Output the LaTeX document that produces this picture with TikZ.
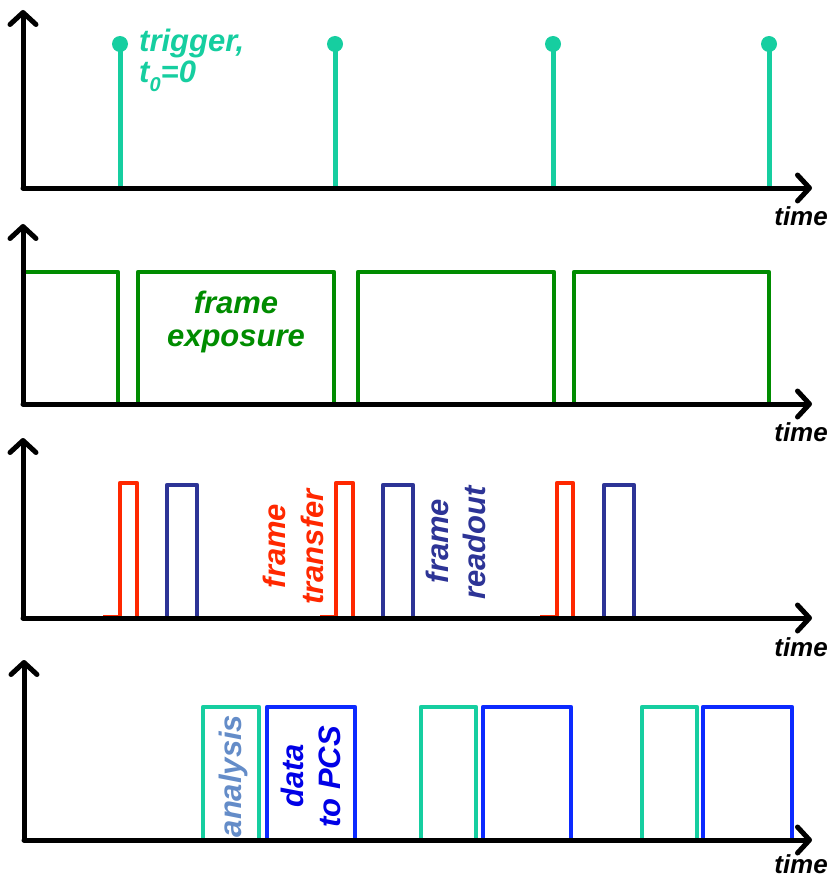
\documentclass[tikz,border=0pt]{standalone}
\usepackage{fontspec}
\setmainfont{Liberation Sans}
\usetikzlibrary{arrows.meta}

\definecolor{trig}{RGB}{22,206,160}
\definecolor{expo}{RGB}{0,140,0}
\definecolor{xfer}{RGB}{255,40,0}
\definecolor{rdout}{RGB}{45,52,150}
\definecolor{pcs}{RGB}{12,42,255}
\definecolor{pcstext}{RGB}{0,0,230}
\definecolor{anatext}{RGB}{100,140,200}

\tikzset{
  axis/.style={line width=5pt, line cap=round, line join=round,
    -{Straight Barb[length=12pt,width=26pt,round]}},
  pulse/.style={line width=4.5pt, line join=round},
  lbl/.style={font=\fontsize{31}{33}\selectfont\bfseries\itshape, inner sep=0pt},
  timelbl/.style={font=\fontsize{26}{28}\selectfont\bfseries\itshape, inner sep=0pt, anchor=base east},
}

\begin{document}
\begin{tikzpicture}[x=1pt,y=-1pt]
\useasboundingbox (0,0) rectangle (830,880);

% ---- panel 1: triggers ----
\foreach \tx [count=\i] in {120,335,553,769}{
  \coordinate (tb\i) at (\tx,188);
  \coordinate (tt\i) at (\tx,44);
  \draw[trig, line width=5pt] (tb\i) -- (tt\i);
  \fill[trig] (tt\i) circle (8);
}
\node[lbl, trig, anchor=base west] (trg1) at (139,52) {trigger,};
\node[lbl, trig, anchor=base west] (trg2) at (139,83)
  {t\raisebox{-0.28em}{\fontsize{20}{20}\selectfont 0}=0};
\coordinate (o1) at (23,188);
\coordinate (y1) at (23,10);
\coordinate (x1) at (812,188);
\draw[axis] (o1) -- (y1);
\draw[axis] (o1) -- (x1);
\node[timelbl] (time1) at (828,225) {time};

% ---- panel 2: frame exposure ----
\draw[expo, pulse] (23,272) -- (118,272) -- (118,404);
\draw[expo, pulse] (138,404) -- (138,272) -- (334,272) -- (334,404);
\draw[expo, pulse] (358,404) -- (358,272) -- (554,272) -- (554,404);
\draw[expo, pulse] (574,404) -- (574,272) -- (769,272) -- (769,404);
\node[lbl, expo, anchor=base] (fe1) at (236,313) {frame};
\node[lbl, expo, anchor=base] (fe2) at (236,346) {exposure};
\coordinate (o2) at (23,404);
\coordinate (y2) at (23,224);
\coordinate (x2) at (812,404);
\draw[axis] (o2) -- (y2);
\draw[axis] (o2) -- (x2);
\node[timelbl] (time2) at (828,441) {time};

% ---- panel 3: frame transfer and readout ----
\foreach \a/\b/\c in {103/120/137, 320/336/353, 540/557/573}{
  \draw[xfer, pulse] (\a,617) -- (\b,617) -- (\b,483) -- (\c,483) -- (\c,617);
}
\foreach \a/\b in {167/197, 383/413, 604/634}{
  \draw[rdout, pulse] (\a,619) rectangle (\b,485);
}
\node[lbl, xfer, rotate=90, anchor=base] (ft1) at (285,546) {frame};
\node[lbl, xfer, rotate=90, anchor=base] (ft2) at (323,547) {transfer};
\node[lbl, rdout, rotate=90, anchor=base] (fr1) at (448,541) {frame};
\node[lbl, rdout, rotate=90, anchor=base] (fr2) at (485,543) {readout};
\coordinate (o3) at (23,618);
\coordinate (y3) at (23,438);
\coordinate (x3) at (812,618);
\draw[axis] (o3) -- (y3);
\draw[axis] (o3) -- (x3);
\node[timelbl] (time3) at (828,656) {time};

% ---- panel 4: analysis and data transfer to PCS ----
\foreach \a/\b in {203/259, 421/476, 642/697}{
  \draw[trig, pulse] (\a,840) rectangle (\b,707);
}
\foreach \a/\b in {267/355, 483/571, 703/792}{
  \draw[pcs, pulse] (\a,840) rectangle (\b,707);
}
\node[lbl, anatext, rotate=90, anchor=base] (an) at (241,776) {analysis};
\node[lbl, pcstext, rotate=90, anchor=base] (dp1) at (303,776) {data};
\node[lbl, pcstext, rotate=90, anchor=base] (dp2) at (340,777) {to PCS};
\coordinate (o4) at (24,840);
\coordinate (y4) at (24,660);
\coordinate (x4) at (812,840);
\draw[axis] (o4) -- (y4);
\draw[axis] (o4) -- (x4);
\node[timelbl] (time4) at (828,873) {time};
\end{tikzpicture}
\end{document}
